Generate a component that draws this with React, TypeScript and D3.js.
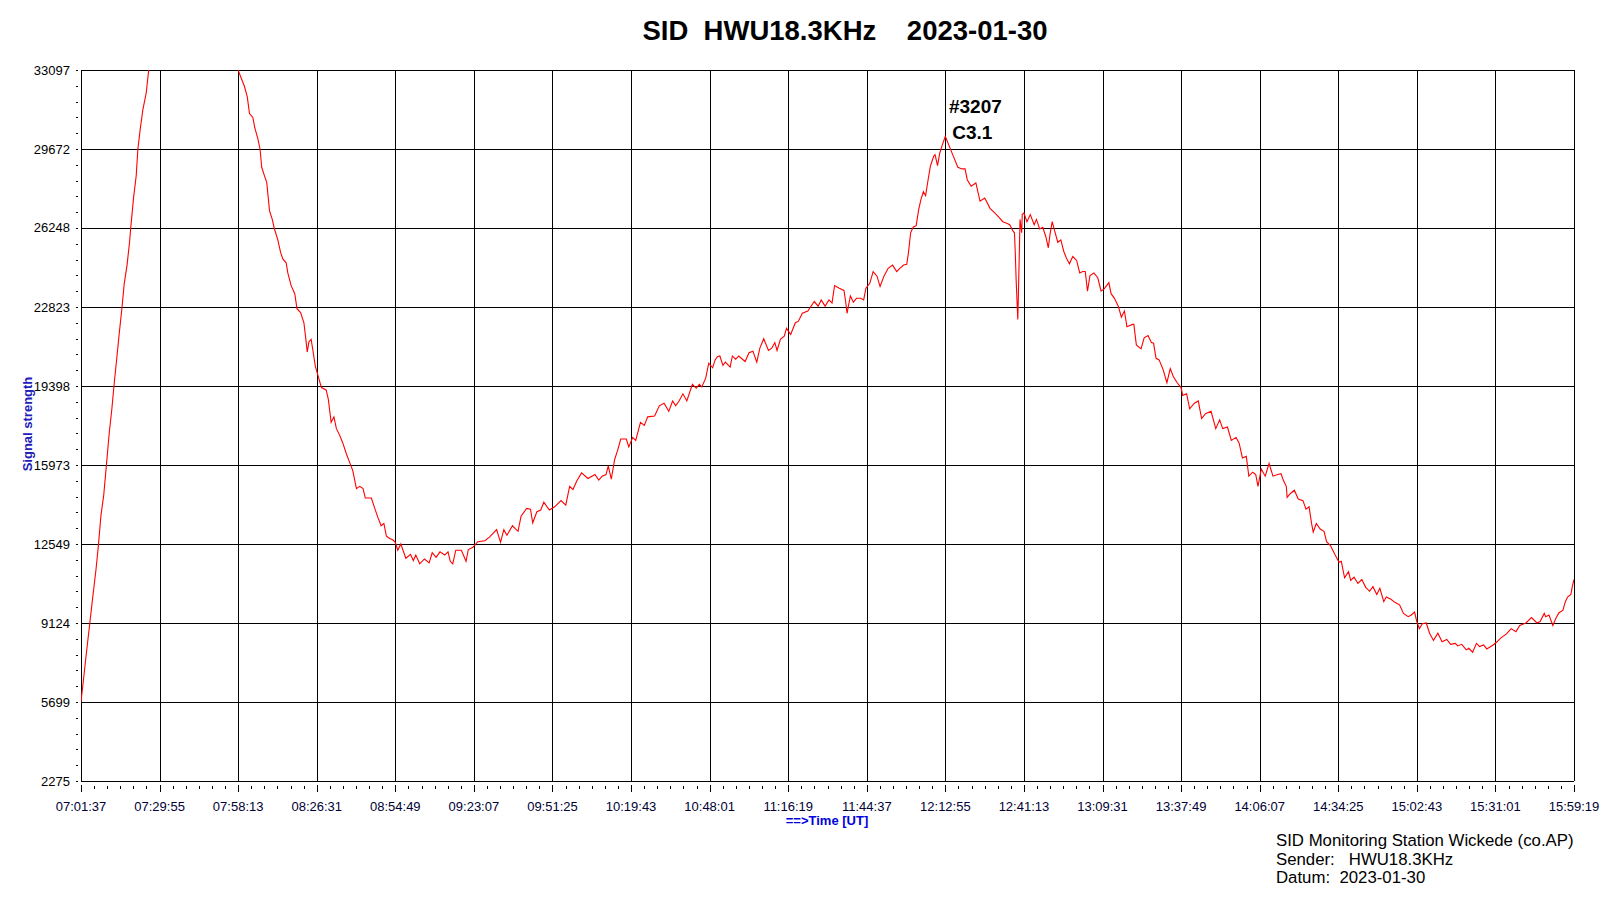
import React from "react";
import * as d3 from "d3";

// time in minutes after 00:00 UT, signal strength
const sunriseRise: [number, number][] = [
  [421.6, 5700], [422.6, 6760], [423.4, 7650], [424.6, 8920], [425.8, 10190], [427.0, 11420],
  [427.9, 12510], [428.8, 13780], [429.8, 14670], [430.8, 16010], [431.8, 17380], [432.7, 18370],
  [433.6, 19540], [434.5, 20600], [435.4, 21690], [436.4, 22823], [437.2, 23850], [438.2, 24640],
  [439.1, 25630], [439.6, 26350], [440.6, 27620], [441.5, 28510], [442.1, 29672], [442.9, 30490],
  [443.9, 31380], [445.1, 32100], [445.9, 32990], [447.1, 33950], [461.2, 39600], [477.1, 33780],
];
const morningFall: [number, number][] = [
  [478.2, 33097], [479.3, 32750], [480.5, 32380], [481.5, 31930], [482.3, 31210], [483.5, 31040],
  [484.2, 30600], [485.3, 30120], [486.1, 29672], [486.7, 28880], [487.7, 28510], [488.5, 28230],
  [489.1, 27510], [489.5, 27000], [490.5, 26620], [491.2, 26248], [492.5, 25730], [493.5, 25190],
  [494.3, 24910], [495.5, 24740], [496.1, 24300], [497.3, 23750], [498.6, 23400], [499.4, 22750],
  [500.7, 22580], [501.9, 22140], [502.6, 21420], [503.1, 20870], [503.7, 21320], [504.5, 21420],
  [505.1, 20970], [506.0, 20260], [506.9, 19880], [508.2, 19330], [509.9, 19230], [510.7, 18820],
  [511.7, 17820], [512.7, 18060], [513.6, 17550], [514.7, 17280], [515.9, 16930], [517.2, 16450],
  [518.3, 16110], [519.5, 15730], [520.8, 14950], [522.0, 15050], [523.2, 14950], [524.0, 14540],
  [526.2, 14540], [527.5, 14060], [528.6, 13680], [529.7, 13340], [530.7, 13440], [531.6, 12890],
  [532.8, 12790], [534.0, 12720], [534.8, 12620],
];
const middayRise: [number, number][] = [
  [535.7, 12280], [536.8, 12549], [538.6, 11930], [540.3, 12100], [541.3, 11830], [542.2, 12070],
  [543.6, 11690], [545.3, 11900], [547.0, 11730], [548.1, 12170], [549.5, 11970], [550.9, 12210],
  [552.6, 12070], [553.8, 12210], [554.6, 11800], [555.5, 11690], [556.6, 12280], [558.6, 12280],
  [560.3, 11800], [561.1, 12310], [562.8, 12410], [564.5, 12650], [567.1, 12690], [568.8, 12860],
  [571.3, 13170], [572.7, 12620], [573.9, 13170], [575.0, 12930], [577.0, 13340], [578.1, 13200],
  [579.0, 13100], [580.1, 13750], [582.1, 14090], [583.5, 14060], [584.3, 13470], [585.8, 13950],
  [587.2, 14020], [588.3, 14360], [590.3, 14020], [592.2, 14160], [594.5, 14430], [596.2, 14230],
  [597.6, 15050], [598.8, 14910], [600.2, 15290], [601.9, 15630], [604.2, 15390], [606.7, 15560],
  [608.1, 15320], [609.3, 15490], [610.7, 15560], [611.5, 15940], [612.6, 15360], [613.8, 16210],
  [614.9, 16620], [616.0, 17100], [618.0, 17100], [618.9, 16760], [620.3, 17170], [621.4, 17040],
  [623.1, 17820], [624.5, 17690], [625.7, 18060], [628.2, 18100], [629.9, 18540], [631.6, 18650],
  [633.3, 18300], [634.7, 18750], [635.8, 18540], [637.0, 18750], [638.4, 19060], [639.8, 18750],
  [641.8, 19470], [643.2, 19300], [644.3, 19470], [645.2, 19360], [646.6, 19740], [647.7, 20390],
  [649.1, 20190], [650.0, 20530], [650.8, 20670], [651.7, 20700], [652.8, 20290], [653.7, 20430],
  [655.4, 20220], [656.2, 20700], [657.4, 20560], [658.5, 20700], [660.8, 20460], [662.2, 20840],
  [663.6, 20910], [665.0, 20430], [666.1, 21040], [667.5, 21450], [669.2, 20940], [670.4, 21040],
  [671.5, 21280], [672.3, 20940], [673.5, 21420], [674.9, 21560], [675.7, 21900], [677.2, 21630],
  [678.9, 22140], [680.0, 22210], [681.4, 22550], [683.4, 22650], [685.7, 23060], [687.1, 22860],
  [688.2, 23130], [689.6, 22860], [691.0, 23130], [692.1, 22990], [693.0, 23750], [694.7, 23640],
  [696.4, 23540], [697.0, 23060], [697.5, 22550], [698.7, 23300], [699.8, 23030], [700.9, 23200],
  [702.4, 23200], [703.5, 23130], [704.3, 23640], [705.7, 23850], [706.9, 24360], [708.3, 24160],
  [709.4, 23710], [710.8, 24160], [712.3, 24500], [713.9, 24640], [715.4, 24360], [716.5, 24500],
  [717.9, 24640], [719.0, 24670], [719.6, 25150], [720.4, 26040], [721.3, 26280], [722.4, 26350],
  [723.3, 27040], [724.1, 27480], [725.0, 27820], [725.8, 27650], [726.7, 28340], [727.5, 28920],
  [728.7, 29360], [729.2, 29430], [730.1, 28950], [730.9, 29500], [731.8, 29840], [732.9, 30220],
];
const afternoonFall: [number, number][] = [
  [734.6, 29710], [736.0, 29300], [737.4, 28880], [738.9, 28810], [740.0, 28810], [740.8, 28340],
  [742.2, 28060], [743.9, 28200], [745.4, 27410], [747.1, 27550], [749.0, 27100], [750.7, 26900],
  [752.4, 26690], [753.6, 26520], [755.0, 26450], [756.1, 26390], [757.3, 26110], [757.8, 26040],
  [758.1, 25150], [758.4, 24020], [759.0, 22280], [759.2, 23270], [759.5, 24880], [759.8, 26620],
  [760.4, 26040], [760.6, 26830], [761.2, 26900], [762.3, 26520], [763.5, 26830], [764.9, 26390],
  [765.7, 26620], [766.9, 26210], [768.0, 26280], [769.1, 25870], [770.0, 25390], [770.6, 25970],
  [771.4, 26520], [772.3, 26110], [773.4, 25630], [774.5, 25730], [775.6, 25220], [776.5, 24950],
  [777.6, 24700], [778.8, 25010], [780.2, 24840], [781.3, 24300], [782.4, 24360], [783.3, 24360],
  [784.1, 23510], [785.0, 24190], [786.4, 24300], [787.8, 24090], [789.0, 23510], [790.1, 23610],
  [791.8, 23880], [792.6, 23400], [793.8, 23200], [795.2, 22860], [796.3, 22380], [797.4, 22650],
  [798.3, 21970], [800.3, 22070], [800.8, 22070], [801.7, 21180], [803.4, 21010], [804.5, 21490],
  [805.9, 21590], [807.1, 21280], [807.9, 21250], [808.8, 20600], [809.9, 20530], [811.3, 20120],
  [812.7, 19540], [813.9, 20150], [815.0, 19810], [816.4, 19540], [817.8, 19330], [818.4, 18990],
  [819.8, 19060], [820.9, 18410], [822.6, 18650], [824.0, 18750], [825.2, 17990], [826.6, 18200],
  [828.6, 18300], [830.3, 17550], [831.7, 17930], [832.8, 17550], [834.5, 17620], [835.9, 17040],
  [837.6, 17170], [838.7, 16930], [839.9, 16280], [841.3, 16350], [842.2, 15490], [843.6, 15660],
  [844.7, 15560], [845.5, 15050], [846.7, 15800], [848.1, 15490], [849.5, 16040], [850.9, 15490],
  [852.6, 15560], [853.8, 15600], [854.6, 15320],
];
const eveningTrough: [number, number][] = [
  [855.7, 15050], [856.0, 14570], [857.2, 14740], [858.6, 14880], [860.0, 14500], [861.7, 14430],
  [862.8, 14060], [863.9, 14160], [864.8, 13440], [865.4, 13060], [866.5, 13440], [867.9, 13200],
  [869.3, 13100], [870.2, 12650], [871.6, 12480], [873.3, 12070], [874.7, 11760], [875.5, 11800],
  [876.7, 11080], [878.1, 11350], [878.9, 10970], [880.1, 11110], [881.5, 10840], [882.9, 11010],
  [884.3, 10670], [885.7, 10500], [886.9, 10700], [888.3, 10360], [889.4, 10630], [890.8, 10050],
  [891.7, 10250], [893.4, 10150], [894.8, 10020], [896.5, 9910], [897.9, 9540], [899.6, 9400],
  [900.7, 9470], [901.9, 9600], [902.7, 9190], [903.6, 8880], [904.7, 9090], [906.1, 9124],
  [907.3, 8680], [908.7, 8370], [910.3, 8680], [911.8, 8310], [913.5, 8410], [914.9, 8200],
  [916.6, 8240], [917.4, 8130], [918.9, 8200], [920.5, 7960], [921.4, 8030], [922.8, 7860],
  [924.2, 8240], [925.3, 8100], [926.8, 8170], [927.9, 8000], [930.2, 8170], [931.6, 8310],
  [933.0, 8480], [935.0, 8650], [936.7, 8880], [938.4, 8750], [939.8, 9020], [942.0, 9124],
  [944.0, 9360], [946.0, 9124], [947.1, 9190], [948.6, 9540], [949.1, 9400], [950.3, 9470],
  [951.7, 9020], [952.8, 9330], [953.9, 9570], [955.3, 9670], [956.2, 10050], [957.0, 10250],
  [958.2, 10360], [958.7, 10700], [959.3, 11010],
];

const yTicks = [2275, 5699, 9124, 12549, 15973, 19398, 22823, 26248, 29672, 33097];
const xTickLabels = [
  "07:01:37", "07:29:55", "07:58:13", "08:26:31", "08:54:49", "09:23:07", "09:51:25",
  "10:19:43", "10:48:01", "11:16:19", "11:44:37", "12:12:55", "12:41:13", "13:09:31",
  "13:37:49", "14:06:07", "14:34:25", "15:02:43", "15:31:01", "15:59:19",
];
const flareLabel = ["#3207", "C3.1"];
const flareTime = "12:12:55";
const titleText = "SID  HWU18.3KHz    2023-01-30";
const footerLines = [
  "SID Monitoring Station Wickede (co.AP)",
  "Sender:   HWU18.3KHz",
  "Datum:  2023-01-30",
];

const toMin = (s: string) => {
  const [h, m, sec] = s.split(":").map(Number);
  return h * 60 + m + sec / 60;
};

const W = 1600, H = 919;
const L = 81, R = 1574, T = 70, B = 781;
const FONT = "'Liberation Sans', Arial, sans-serif";

export default function App() {
  const x = d3.scaleLinear().domain([toMin(xTickLabels[0]), toMin(xTickLabels[xTickLabels.length - 1])]).range([L, R]);
  const y = d3.scaleLinear().domain([yTicks[0], yTicks[yTicks.length - 1]]).range([B, T]);
  const data = [...sunriseRise, ...morningFall, ...middayRise, ...afternoonFall, ...eveningTrough];
  const line = d3.line<[number, number]>().x((d) => x(d[0])).y((d) => y(d[1]));

  const xMajor = xTickLabels.map(toMin);
  const xMinor: number[] = [];
  for (let i = 0; i < xMajor.length - 1; i++) {
    const step = (xMajor[i + 1] - xMajor[i]) / 6;
    for (let k = 1; k < 6; k++) xMinor.push(xMajor[i] + step * k);
  }
  const yMinor: number[] = [];
  for (let i = 0; i < yTicks.length - 1; i++) {
    const step = (yTicks[i + 1] - yTicks[i]) / 5;
    for (let k = 1; k < 5; k++) yMinor.push(yTicks[i] + step * k);
  }
  const fx = x(toMin(flareTime));

  return (
    <svg width={W} height={H} style={{ position: "absolute", left: 0, top: 0, background: "#fff" }} fontFamily={FONT}>
      <rect x={0} y={0} width={W} height={H} fill="#fff" />
      <defs>
        <clipPath id="plot">
          <rect x={L} y={T} width={R - L} height={B - T} />
        </clipPath>
      </defs>
      <text x={845} y={40} textAnchor="middle" fontSize={27.5} fontWeight="bold" style={{ whiteSpace: "pre" }}>
        {titleText}
      </text>
      {/* grid */}
      {xMajor.map((t, i) => (
        <line key={"gx" + i} x1={Math.round(x(t)) + 0.5} x2={Math.round(x(t)) + 0.5} y1={T} y2={B} stroke="#000" strokeWidth={1} />
      ))}
      {yTicks.map((v, i) => (
        <line key={"gy" + i} x1={L} x2={R} y1={Math.round(y(v)) + 0.5} y2={Math.round(y(v)) + 0.5} stroke="#000" strokeWidth={1} />
      ))}
      {/* y ticks */}
      {[...yTicks, ...yMinor].map((v, i) => (
        <line key={"yt" + i} x1={76} x2={78} y1={Math.round(y(v)) + 0.5} y2={Math.round(y(v)) + 0.5} stroke="#000" strokeWidth={1} />
      ))}
      {yTicks.map((v, i) => (
        <text key={"yl" + i} x={70} y={y(v) + 4.5} textAnchor="end" fontSize={13} fill="#000">
          {String(v)}
        </text>
      ))}
      {/* x ticks */}
      {xMajor.map((t, i) => (
        <line key={"xt" + i} x1={Math.round(x(t)) + 0.5} x2={Math.round(x(t)) + 0.5} y1={785} y2={792} stroke="#000" strokeWidth={1} />
      ))}
      {xMinor.map((t, i) => (
        <line key={"xm" + i} x1={Math.round(x(t)) + 0.5} x2={Math.round(x(t)) + 0.5} y1={786} y2={789} stroke="#000" strokeWidth={1} />
      ))}
      {xTickLabels.map((s, i) => (
        <text key={"xl" + i} x={x(xMajor[i])} y={811} textAnchor="middle" fontSize={13} fill="#000033">
          {s}
        </text>
      ))}
      <text x={827} y={825} textAnchor="middle" fontSize={13} fontWeight="bold" fill="#0000dd">
        ==&gt;Time [UT]
      </text>
      <text transform="translate(32,424) rotate(-90)" textAnchor="middle" fontSize={13} fontWeight="bold" fill="#2020b8">
        Signal strength
      </text>
      {/* data */}
      <path d={line(data) ?? ""} fill="none" stroke="#ff0000" strokeWidth={1.1} clipPath="url(#plot)" />
      <text x={fx + 30} y={113} textAnchor="middle" fontSize={19} fontWeight="bold">
        {flareLabel[0]}
      </text>
      <text x={fx + 27} y={139} textAnchor="middle" fontSize={19} fontWeight="bold">
        {flareLabel[1]}
      </text>
      {footerLines.map((s, i) => (
        <text key={"f" + i} x={1276} y={846 + i * 18.5} fontSize={16.8} style={{ whiteSpace: "pre" }}>
          {s}
        </text>
      ))}
    </svg>
  );
}
